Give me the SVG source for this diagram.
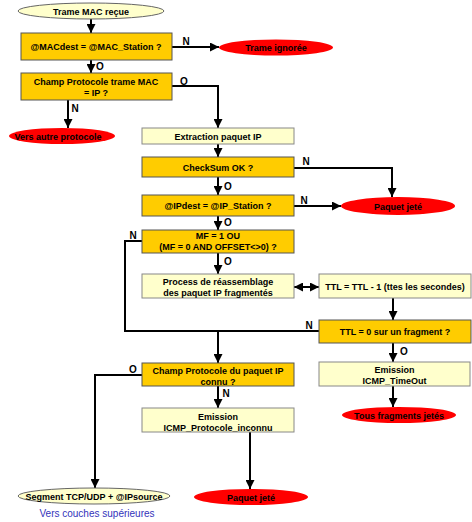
<svg xmlns="http://www.w3.org/2000/svg" width="472" height="522" viewBox="0 0 472 522">
<defs>
<marker id="ah" viewBox="0 0 10 10" refX="10" refY="5" markerWidth="4.5" markerHeight="4.5" markerUnits="strokeWidth" orient="auto">
<path d="M0,0 L10,5 L0,10 Z" fill="#000"/>
</marker>
<marker id="ahs" viewBox="0 0 10 10" refX="0" refY="5" markerWidth="4.5" markerHeight="4.5" markerUnits="strokeWidth" orient="auto">
<path d="M10,0 L0,5 L10,10 Z" fill="#000"/>
</marker>
<style>
.dec{fill:#FFCC00;stroke:#555;stroke-width:1}
.act{fill:#FFFFCC;stroke:#888;stroke-width:1}
.bad{fill:#FF0000;stroke:none}
.term{fill:#FFFFCC;stroke:#666;stroke-width:1}
text{font-family:"Liberation Sans",Arial,sans-serif;font-weight:bold;font-size:9px;fill:#000;text-anchor:middle}
.lbl{font-size:10px}
.blue{font-weight:normal;font-size:10px;fill:#3333BB}
.c{fill:none;stroke:#000;stroke-width:2}
.ca{fill:none;stroke:#000;stroke-width:2;marker-end:url(#ah)}
</style>
</defs>
<rect width="472" height="522" fill="#fff"/>
<g id="connectors">
<path class="ca" d="M91,19 V33"/>
<path class="ca" d="M172,47 H219"/>
<path class="ca" d="M91,60 V73"/>
<path class="ca" d="M172,86 H218 V128"/>
<path class="ca" d="M68,100 V128"/>
<path class="ca" d="M218,144 V157"/>
<path class="ca" d="M294,168 H392 V197"/>
<path class="ca" d="M218,177 V195"/>
<path class="ca" d="M294,206 H341"/>
<path class="ca" d="M218,216 V230"/>
<path class="ca" d="M218,253 V274"/>
<path class="c" d="M294,287 H319" marker-start="url(#ahs)" marker-end="url(#ah)"/>
<path class="ca" d="M393,298 V320"/>
<path class="ca" d="M142,241 H125 V331 H218 V363"/>
<path class="c" d="M319,331 H218"/>
<path class="ca" d="M393,343 V362"/>
<path class="ca" d="M393,386 V407"/>
<path class="ca" d="M142,375 H95 V488"/>
<path class="ca" d="M218,386 V408"/>
<path class="ca" d="M250,432 V489"/>
<text class="lbl" x="186" y="45">N</text>
<text class="lbl" x="100" y="70">O</text>
<text class="lbl" x="184" y="85">O</text>
<text class="lbl" x="75" y="112">N</text>
<text class="lbl" x="306" y="165">N</text>
<text class="lbl" x="228" y="190">O</text>
<text class="lbl" x="304" y="204">N</text>
<text class="lbl" x="228" y="226">O</text>
<text class="lbl" x="133" y="239">N</text>
<text class="lbl" x="228" y="265">O</text>
<text class="lbl" x="309" y="329">N</text>
<text class="lbl" x="404" y="355">O</text>
<text class="lbl" x="133" y="373">O</text>
<text class="lbl" x="226" y="397">N</text>
</g>
<g id="start">
<ellipse class="term" cx="91" cy="11" rx="73" ry="8"/>
<text x="91" y="14.5">Trame MAC reçue</text>
</g>
<g id="macdest">
<rect class="dec" x="21" y="33" width="151" height="27"/>
<text x="96" y="50">@MACdest = @MAC_Station ?</text>
</g>
<g id="trame-ignoree">
<ellipse class="bad" cx="276" cy="47.5" rx="57" ry="8"/>
<text x="276" y="51">Trame ignorée</text>
</g>
<g id="champ-mac">
<rect class="dec" x="21" y="73" width="151" height="27"/>
<text x="96" y="84.5">Champ Protocole trame MAC</text>
<text x="96" y="95.5">= IP ?</text>
</g>
<g id="autre-protocole">
<ellipse class="bad" cx="62" cy="136" rx="53" ry="8"/>
<text x="58" y="139.5">Vers autre protocole</text>
</g>
<g id="extraction">
<rect class="act" x="142" y="128" width="152" height="16"/>
<text x="218" y="139.5">Extraction paquet IP</text>
</g>
<g id="checksum">
<rect class="dec" x="142" y="157" width="152" height="20"/>
<text x="218" y="170.5">CheckSum OK ?</text>
</g>
<g id="ipdest">
<rect class="dec" x="142" y="195" width="152" height="21"/>
<text x="218" y="209">@IPdest = @IP_Station ?</text>
</g>
<g id="paquet-jete-1">
<ellipse class="bad" cx="398" cy="206" rx="57" ry="9"/>
<text x="398" y="209.5">Paquet jeté</text>
</g>
<g id="mf">
<rect class="dec" x="142" y="230" width="152" height="23"/>
<text x="218" y="238.5">MF = 1 OU</text>
<text x="218" y="250">(MF = 0 AND OFFSET&lt;&gt;0) ?</text>
</g>
<g id="process">
<rect class="act" x="142" y="274" width="152" height="24"/>
<text x="218" y="284.5">Process de réassemblage</text>
<text x="218" y="295.5">des paquet IP fragmentés</text>
</g>
<g id="ttl-dec">
<rect class="act" x="319" y="274" width="152" height="24"/>
<text x="395" y="290">TTL = TTL - 1 (ttes les secondes)</text>
</g>
<g id="ttl-zero">
<rect class="dec" x="319" y="320" width="152" height="23"/>
<text x="395" y="335">TTL = 0 sur un fragment ?</text>
</g>
<g id="timeout">
<rect class="act" x="319" y="362" width="151" height="24"/>
<text x="394.5" y="372.5">Emission</text>
<text x="394.5" y="383.5">ICMP_TimeOut</text>
</g>
<g id="tous-fragments">
<ellipse class="bad" cx="399" cy="415" rx="57" ry="8"/>
<text x="399" y="418.5">Tous fragments jetés</text>
</g>
<g id="champ-ip">
<rect class="dec" x="142" y="363" width="152" height="23"/>
<text x="218" y="373.5">Champ Protocole du paquet IP</text>
<text x="218" y="384.5">connu ?</text>
</g>
<g id="proto-inconnu">
<rect class="act" x="142" y="408" width="152" height="24"/>
<text x="218" y="419.5">Emission</text>
<text x="218" y="430.5">ICMP_Protocole_inconnu</text>
</g>
<g id="paquet-jete-2">
<ellipse class="bad" cx="251" cy="497" rx="57" ry="8"/>
<text x="251" y="500.5">Paquet jeté</text>
</g>
<g id="segment">
<ellipse class="term" cx="94" cy="496" rx="76" ry="8"/>
<text x="94" y="499.5">Segment TCP/UDP + @IPsource</text>
<text class="blue" x="97" y="517">Vers couches supérieures</text>
</g>
</svg>
